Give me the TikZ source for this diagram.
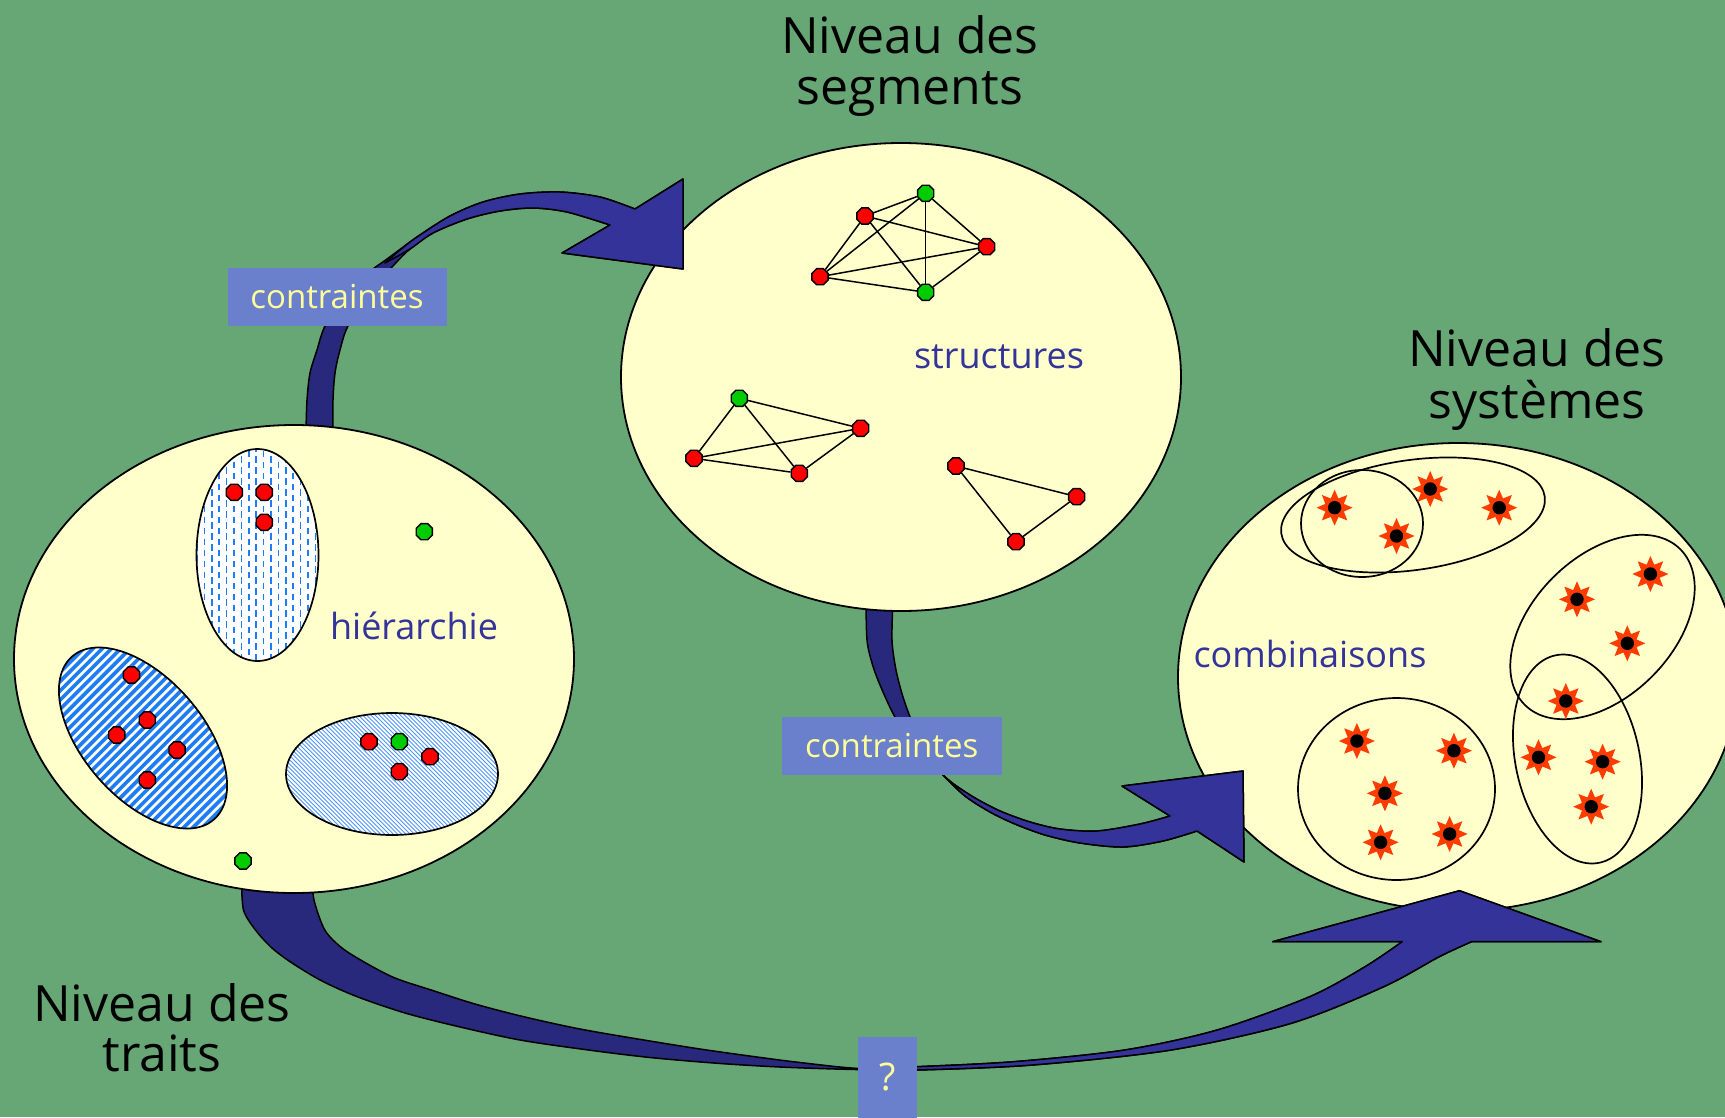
\documentclass[tikz,border=0pt]{standalone}
\usepackage{fontspec}
\setmainfont{Open Sans}
\usetikzlibrary{shapes.geometric}
\definecolor{bg}{RGB}{103,167,117}
\definecolor{pale}{RGB}{255,255,204}
\definecolor{navy}{RGB}{51,51,153}
\definecolor{navyd}{RGB}{40,40,125}
\definecolor{boxblue}{RGB}{107,128,204}
\definecolor{boxtxt}{RGB}{255,255,153}
\definecolor{dotred}{RGB}{255,0,0}
\definecolor{dotgreen}{RGB}{0,204,0}
\definecolor{starred}{RGB}{255,60,0}
\definecolor{hatch}{RGB}{30,125,245}
\definecolor{hatchlt}{RGB}{80,150,255}
\begin{document}
\begin{tikzpicture}[x=1pt,y=-1pt,
  bigell/.style={fill=pale, draw=black, line width=1.8pt},
  subell/.style={draw=black, line width=1.7pt},
  rdot/.style={regular polygon, regular polygon sides=8, minimum size=17.5pt, inner sep=0pt, draw=black, line width=1.4pt, fill=dotred},
  gdot/.style={rdot, fill=dotgreen},
  glink/.style={draw=black, line width=1.5pt},
  sstar/.style={star, star points=8, star point ratio=1.8, minimum size=36pt, inner sep=0pt, fill=starred},
  arrd/.style={fill=navyd, draw=black, line width=1.5pt, line join=round},
  arrl/.style={fill=navy, draw=black, line width=1.5pt, line join=round},
  lblbox/.style={fill=boxblue, text=boxtxt, inner sep=0pt, font=\fontsize{33}{36}\selectfont},
  bluelbl/.style={text=navy, font=\fontsize{36}{40}\selectfont, anchor=base},
  ttl/.style={text=black, font=\fontsize{50}{55}\selectfont, anchor=base}]

\clip (0,0) rectangle (1725,1117);
\fill[bg] (0,0) rectangle (1725,1117);

% ---------------- right ellipse (systemes) ----------------
\draw[bigell] (1458,677) ellipse [x radius=280pt, y radius=234pt];
\draw[subell, rotate around={8:(1413,515)}] (1413,515) ellipse [x radius=133pt, y radius=55pt];
\draw[subell] (1362,523.5) ellipse [x radius=61pt, y radius=53.5pt];
\draw[subell, rotate around={45:(1602.5,627)}] (1602.5,627) ellipse [x radius=110pt, y radius=70pt];
\draw[subell, rotate around={12:(1577.5,759)}] (1577.5,759) ellipse [x radius=62pt, y radius=106pt];
\draw[subell] (1396.5,789) ellipse [x radius=98.5pt, y radius=91pt];
\foreach \x/\y [count=\k] in {1334.6/507.7, 1430.2/489, 1499.2/507.7, 1396.5/536,
   1650.4/574, 1577/599.3, 1627.3/643.3, 1565.8/701,
   1538.5/757.3, 1602.6/761.7, 1591.2/806.7,
   1356.9/741, 1453.9/750.7, 1384.9/793.3, 1380.6/842.3, 1449.6/834}{
  \node[sstar] (st\k) at (\x,\y) {};
  \fill[black] (st\k.center) circle[radius=6.7pt];
}
\node[bluelbl] (comb) at (1310,667) {combinaisons};

% ---------------- arrow 2 (segments -> systemes) ----------------
\filldraw[arrd] plot[smooth] coordinates {(866,600) (867,640) (872,663) (880,685) (895,717) (915,745) (943,775) (965,796) (990,812) (1015,824) (1045,835) (1080,843) (1123,847) (1163,841) (1197,831)}
  -- (1244,862) -- (1243,771) -- (1122,786) -- (1170,816)
  -- plot[smooth] coordinates {(1170,816) (1140,824) (1097,831) (1060,829) (1030,822) (1000,811) (975,798) (955,785) (943,775) (925,752) (912,722) (903,697) (896,670) (892,640) (893,600)} -- cycle;
\filldraw[arrl] plot[smooth] coordinates {(943,775) (965,796) (990,812) (1015,824) (1045,835) (1080,843) (1123,847) (1163,841) (1197,831)}
  -- (1244,862) -- (1243,771) -- (1122,786) -- (1170,816)
  -- plot[smooth] coordinates {(1170,816) (1140,824) (1097,831) (1060,829) (1030,822) (1000,811) (975,798) (955,785) (943,775)} -- cycle;

% ---------------- arrow 3 (traits -> systemes) ----------------
\filldraw[arrd] plot[smooth] coordinates {(241.6,880) (243.5,910) (255.5,930) (272,948) (292.5,963.3) (322,981) (357.2,996.7) (405,1013) (458.9,1026.7) (520,1040) (588.4,1050) (650,1057.5) (717.8,1063.3) (780,1067) (847.3,1069.3) (917,1070) (1032.3,1065) (1171,1050) (1291.2,1023.3) (1383.7,986.7) (1439.2,956.7) (1471.5,941.7)}
  -- (1601,941.7) -- (1459.5,890.7) -- (1272.7,941.7) -- (1402.2,941.7)
  -- plot[smooth] coordinates {(1402.2,941.7) (1365.1,966.7) (1309.7,996.7) (1217.2,1030) (1124.7,1050) (1013.8,1061.7) (916.7,1066.7) (860,1068.5) (800,1062.5) (754.8,1056.7) (700,1049) (643.9,1040) (580,1029) (523.7,1016.7) (475,1004) (431.2,990) (395,978) (366.4,963.3) (342,948) (324.8,930) (314,900) (312.8,880)} -- cycle;
\filldraw[arrl] plot[smooth] coordinates {(870,1069.8) (917,1070) (1032.3,1065) (1171,1050) (1291.2,1023.3) (1383.7,986.7) (1439.2,956.7) (1471.5,941.7)}
  -- (1601,941.7) -- (1459.5,890.7) -- (1272.7,941.7) -- (1402.2,941.7)
  -- plot[smooth] coordinates {(1402.2,941.7) (1365.1,966.7) (1309.7,996.7) (1217.2,1030) (1124.7,1050) (1013.8,1061.7) (916.7,1066.7) (870,1068)} -- cycle;

% ---------------- top ellipse (segments) ----------------
\draw[bigell] (901,377) ellipse [x radius=280pt, y radius=234pt];
\node[gdot] (g1) at (925.7,193.3) {};
\node[rdot] (r1) at (865,216) {};
\node[rdot] (r2) at (986.7,246.7) {};
\node[rdot] (r3) at (820,276.7) {};
\node[gdot] (g2) at (925.7,292.3) {};
\foreach \a/\b in {r1/g1, g1/r2, g1/g2, g1/r3, r1/r2, r1/g2, r1/r3, r3/r2, r3/g2, g2/r2}
  \draw[glink] (\a) -- (\b);
\node[gdot] (g3) at (739.3,398.3) {};
\node[rdot] (r4) at (860.7,428.3) {};
\node[rdot] (r5) at (694,458.3) {};
\node[rdot] (r6) at (799.3,473.3) {};
\foreach \a/\b in {g3/r4, g3/r5, g3/r6, r5/r4, r5/r6, r6/r4}
  \draw[glink] (\a) -- (\b);
\node[rdot] (r7) at (956,466) {};
\node[rdot] (r8) at (1076.7,496.7) {};
\node[rdot] (r9) at (1016,541.7) {};
\foreach \a/\b in {r7/r8, r8/r9, r9/r7}
  \draw[glink] (\a) -- (\b);
\node[bluelbl] (struct) at (999,368) {structures};

% ---------------- arrow 1 (traits -> segments) ----------------
\filldraw[arrd] plot[smooth] coordinates {(306,432) (307,400) (310,373) (317,350) (325,326) (345,295) (365,275) (387,259) (417,237) (450,216) (483,202) (520,194) (560,192) (600,197) (635,209)}
  -- (683,179) -- (683,269) -- (562,253) -- (610,225)
  -- plot[smooth] coordinates {(610,225) (567,212) (533,208) (500,211) (467,219) (433,233) (410,249) (393,266) (370,293) (348,326) (340,350) (335,373) (333,400) (333,432)} -- cycle;
\filldraw[arrl] plot[smooth] coordinates {(385,263) (400,250) (417,237) (450,216) (483,202) (520,194) (560,192) (600,197) (635,209)}
  -- (683,179) -- (683,269) -- (562,253) -- (610,225)
  -- plot[smooth] coordinates {(610,225) (567,212) (533,208) (500,211) (467,219) (433,233) (410,249) (385,263)} -- cycle;

% ---------------- left ellipse (traits) ----------------
\draw[bigell] (294,659) ellipse [x radius=280pt, y radius=234pt];
% vertical dashed ellipse
\begin{scope}
  \clip (257.5,555) ellipse [x radius=61pt, y radius=106pt];
  \fill[white] (190,440) rectangle (325,670);
  \foreach \i in {0,...,17}{
    \pgfmathsetmacro\xx{197+7.4*\i}
    \pgfmathsetmacro\ph{mod(\i,2)*5.5}
    \draw[hatch, line width=1.7pt, dash pattern=on 6.5pt off 4.5pt, dash phase=\ph pt] (\xx,445) -- (\xx,668);
  }
\end{scope}
\draw[subell] (257.5,555) ellipse [x radius=61pt, y radius=106pt];
% thick striped tilted ellipse
\begin{scope}
  \clip[rotate around={41:(143,738)}] (143,738) ellipse [x radius=60pt, y radius=108pt];
  \fill[white] (40,620) rectangle (250,860);
  \foreach \i in {-24,...,24}{
    \draw[hatch, line width=3.6pt] ({143+9.3*\i-160},898) -- ++(320,-320);
  }
\end{scope}
\draw[subell, rotate around={41:(143,738)}] (143,738) ellipse [x radius=60pt, y radius=108pt];
% fine hatched ellipse
\begin{scope}
  \clip (392,774) ellipse [x radius=106pt, y radius=61pt];
  \fill[white] (280,705) rectangle (505,845);
  \foreach \i in {-48,...,48}{
    \draw[hatchlt, line width=0.9pt] ({392+4.2*\i-110},664) -- ++(220,220);
  }
\end{scope}
\draw[subell] (392,774) ellipse [x radius=106pt, y radius=61pt];
% dots
\node[rdot] (d1) at (234.3,492.3) {};
\node[rdot] (d2) at (264.3,492.3) {};
\node[rdot] (d3) at (264.3,522.3) {};
\node[gdot] (d4) at (424.3,531.7) {};
\node[rdot] (d5) at (369,741.7) {};
\node[gdot] (d6) at (399.3,741.7) {};
\node[rdot] (d7) at (430,756.7) {};
\node[rdot] (d8) at (399.3,771.7) {};
\node[rdot] (d9) at (131.5,675) {};
\node[rdot] (d10) at (147.3,720) {};
\node[rdot] (d11) at (116.8,735) {};
\node[rdot] (d12) at (177.1,750) {};
\node[rdot] (d13) at (147.3,780) {};
\node[gdot] (d14) at (243,861) {};
\node[bluelbl] (hier) at (414,639) {hiérarchie};

% ---------------- label boxes ----------------
\node[lblbox, minimum width=219pt, minimum height=58pt] (c1) at (337,296.7) {contraintes};
\node[lblbox, minimum width=220pt, minimum height=58pt] (c2) at (891.7,745.8) {contraintes};
\node[lblbox, minimum width=58.7pt, minimum height=81pt, font=\fontsize{38}{40}\selectfont] (q) at (887.3,1077) {?};

% ---------------- titles ----------------
\node[ttl] (tseg1) at (910,53) {Niveau des};
\node[ttl] (tseg2) at (910,104) {segments};
\node[ttl] (tsys1) at (1537,366) {Niveau des};
\node[ttl] (tsys2) at (1537,418) {systèmes};
\node[ttl] (ttr1) at (162,1021) {Niveau des};
\node[ttl] (ttr2) at (162,1071) {traits};
\end{tikzpicture}
\end{document}
